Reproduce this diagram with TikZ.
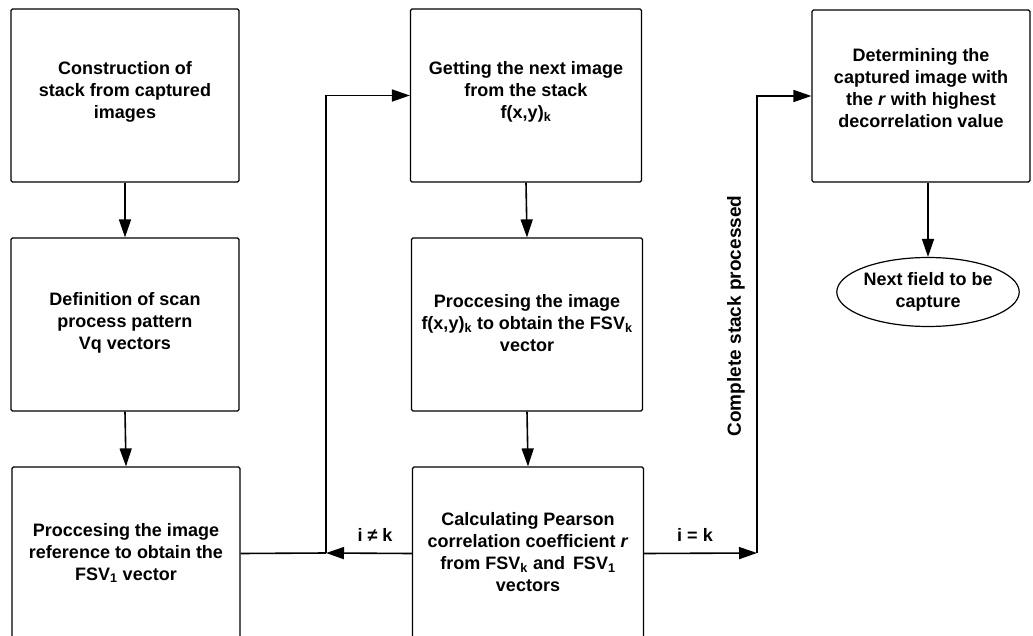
\documentclass[tikz,border=0pt]{standalone}
\usepackage{fontspec}
\setmainfont{Liberation Sans}
\usetikzlibrary{arrows.meta,shapes.geometric}
\begin{document}
\begin{tikzpicture}[x=1pt,y=-1pt,
  every node/.style={font=\fontsize{18}{22}\selectfont\bfseries, align=center},
  stepbox/.style={draw, line width=1.2pt, rounded corners=1.5pt, minimum height=173pt, inner sep=0pt},
  leftbox/.style={stepbox, minimum width=228pt},
  midbox/.style={stepbox, minimum width=231pt},
  conn/.style={line width=1.6pt},
  arr/.style={conn, -{Triangle[length=18pt,width=12pt]}},
  lbl/.style={font=\fontsize{18}{22}\selectfont\bfseries, inner sep=0pt}
]
\useasboundingbox (0,0) rectangle (1033,636);
% left column
\node[leftbox] (B1) at (125,95.5) {};
\node at (125,92) {Construction of\\stack from captured\\images};
\node[leftbox] (B2) at (125,324.5) {};
\node at (125,323) {Definition of scan\\process pattern\\Vq vectors};
\node[leftbox] (B3) at (126,553.5) {};
\node at (126,553) {Proccesing the image\\reference to obtain the\\FSV\textsubscript{1} vector};
% middle column
\node[midbox] (B4) at (526,95.5) {};
\node at (526,92) {Getting the next image\\from the stack\\f(x,y)\textsubscript{k}};
\node[midbox] (B5) at (527,324.5) {};
\node at (527,323) {Proccesing the image\\f(x,y)\textsubscript{k} to obtain the FSV\textsubscript{k}\\vector};
\node[midbox] (B6) at (528,553.5) {};
\node at (528,552) {Calculating Pearson\\correlation coefficient \textit{r}\\from FSV\textsubscript{k} and\, FSV\textsubscript{1}\\vectors};
% right column
\node[stepbox, minimum width=218pt, minimum height=172pt] (B7) at (921,96) {};
\node at (921,88) {Determining the\\captured image with\\the \textit{r} with highest\\decorrelation value};
\node[draw, ellipse, line width=1.2pt, minimum width=173pt, minimum height=69pt, inner sep=0pt] (E) at (928,292) {Next field to be\\capture};
% junction coordinates
\coordinate (J) at (326,553);
\coordinate (K) at (757,553);
% connectors
\draw[arr] (B1.south) -- (B2.north);
\draw[arr] (B2.south) -- (B3.north);
\draw[arr] (B4.south) -- (B5.north);
\draw[arr] (B5.south) -- (B6.north);
\draw[conn] (B3.east) -- (J);
\draw[arr] (J) |- (B4.west);
\draw[arr] (B6.west) -- (J);
\draw[arr] (B6.east) -- (K);
\draw[arr] (K) |- (B7.west);
\draw[arr] (E.north |- B7.south) -- (E.north);
% labels
\node[lbl] (L1) at (375,535) {i ≠ k};
\node[lbl] (L2) at (695,535) {i = k};
\node[lbl, rotate=90, font=\fontsize{19}{22}\selectfont\bfseries] (L3) at (736,316) {Complete stack processed};
\end{tikzpicture}
\end{document}
